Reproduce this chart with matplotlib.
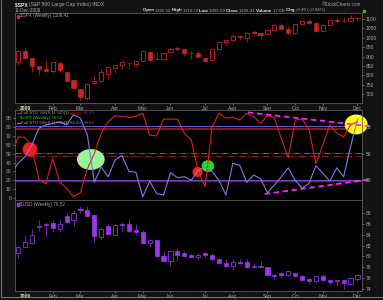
import matplotlib
matplotlib.use('Agg')
import matplotlib.pyplot as plt
from matplotlib.patches import Ellipse, Rectangle
import numpy as np

plt.rcParams['font.family'] = ['Liberation Sans', 'DejaVu Sans']

# weekly bars, week of 29-Dec-2008 .. week of 07-Dec-2009 (index 0..49)
spx_open = [872, 929, 890, 849, 832, 825, 868, 818, 773, 729, 680, 758, 771, 810, 839, 856, 868,
            863, 879, 922, 886, 887, 923, 940, 943, 918, 919, 894, 880, 942, 978, 990, 1008, 998,
            1026, 1025, 1018, 1040, 1067, 1045, 1026, 1072, 1088, 1081, 1036, 1069, 1094, 1091,
            1092, 1105.5]
spx_high = [934.7, 943.9, 890, 852, 877.9, 870, 875, 818, 780, 729, 758, 804, 832, 845, 856, 875,
            868, 878, 930, 922, 924, 922, 951, 956, 943, 929, 931, 898, 943, 980, 996, 1018, 1013,
            1029, 1039, 1025, 1048, 1074, 1080, 1063, 1071, 1096, 1101, 1085, 1071, 1097, 1113,
            1111, 1119, 1110.7]
spx_low = [857, 889, 817, 804, 821, 812, 818, 780, 731, 667, 667, 751, 767, 780, 814, 836, 832,
           847, 875, 878, 881, 881, 923, 930, 903, 888, 896, 869, 875, 940, 963, 984, 988, 978,
           1017, 991, 1017, 1036, 1041, 1020, 1018, 1071, 1074, 1029, 1029, 1067, 1086, 1084,
           1087, 1095.7]
spx_close = [931.8, 890.4, 850.1, 832.0, 825.9, 868.6, 826.8, 770.1, 735.1, 683.4, 756.6, 768.5,
             815.9, 842.5, 856.6, 869.6, 866.2, 877.5, 929.2, 882.9, 887.0, 919.1, 940.1, 946.2,
             921.2, 918.9, 896.4, 879.1, 940.4, 979.3, 987.5, 1010.5, 1004.1, 1026.1, 1028.9,
             1016.4, 1042.7, 1068.3, 1044.4, 1025.2, 1071.5, 1087.7, 1079.6, 1036.2, 1069.3,
             1093.5, 1091.4, 1091.5, 1106.0, 1106.4]

usd_open = [80.7, 81.7, 82.4, 85.5, 85.7, 86.2, 85.1, 87.4, 86.8, 88.7, 88.5, 87.6, 83.5, 85.6,
            84.0, 86.0, 86.0, 84.8, 84.5, 82.4, 83.0, 80.1, 79.2, 80.9, 80.6, 80.3, 79.8, 80.6,
            80.3, 79.5, 78.7, 78.2, 79.0, 78.9, 78.0, 78.3, 78.0, 76.6, 77.0, 76.6, 77.0, 76.3,
            75.8, 75.4, 76.4, 75.7, 75.4, 75.7, 74.9, 75.8]
usd_high = [81.9, 84.0, 85.1, 86.7, 86.4, 86.7, 86.7, 88.0, 88.5, 89.3, 89.3, 87.9, 85.4, 86.0,
            86.0, 86.3, 87.0, 85.9, 84.8, 83.2, 83.2, 80.9, 81.2, 81.5, 80.9, 80.6, 80.6, 80.9,
            80.6, 79.7, 79.5, 79.5, 79.5, 79.5, 78.7, 79.2, 78.1, 76.8, 77.1, 77.5, 77.0, 76.6,
            76.0, 76.4, 76.8, 75.8, 75.8, 75.8, 76.1, 76.8]
usd_low = [79.7, 81.5, 82.4, 84.7, 83.6, 84.5, 84.5, 86.2, 85.6, 88.0, 87.3, 82.7, 83.1, 84.0,
           84.0, 84.5, 84.5, 83.9, 82.4, 81.8, 79.9, 79.0, 78.2, 79.2, 79.9, 79.8, 79.5, 79.8,
           79.2, 78.6, 78.2, 77.5, 78.5, 77.8, 77.8, 78.0, 76.6, 75.8, 76.0, 76.4, 76.2, 75.4,
           74.9, 75.2, 75.4, 74.8, 74.5, 73.9, 74.7, 75.4]
usd_close = [81.8, 82.7, 83.9, 85.6, 85.9, 85.3, 86.0, 86.4, 88.0, 88.5, 87.4, 83.7, 85.1, 84.2,
             85.8, 85.7, 84.7, 84.5, 82.5, 83.0, 80.0, 79.2, 80.9, 80.3, 80.1, 79.8, 80.2, 80.3,
             79.5, 78.7, 78.3, 79.0, 78.7, 78.0, 78.3, 78.1, 76.6, 76.3, 76.5, 77.2, 76.3, 75.6,
             75.4, 76.4, 75.7, 75.3, 75.7, 75.0, 76.0, 76.52]

# full stochastics, index -1..49
sto_idx = list(range(-1, 50))
spx_sto = [47, 69, 68.5, 56, 21, 16, 45, 18, 11, 1.5, 6, 33, 50, 73, 86, 93, 92, 91, 92, 95.6, 71,
           70, 89, 89, 89, 73, 65.5, 30, 13, 80, 95.6, 90, 91, 88, 95.6, 92, 84, 93, 91, 67, 45.5,
           88, 89, 77, 39, 60, 82.5, 73, 69, 82.5, 85.83]
usd_sto = [29, 39, 46.7, 60, 78.7, 82.5, 84, 86, 82.5, 94, 90, 71, 18, 35, 24, 43, 48, 30, 29,
           1.5, 19, 5, 3.4, 28.6, 23, 24, 20, 31.6, 35, 30, 20, 3.4, 39, 37, 17.7, 26, 22, 6,
           14.7, 24, 34, 20, 11, 16.6, 36.5, 28, 19, 34, 24, 58, 88.89]

# hand-drawn annotations on the stochastic panel: (x index, value, width, height, colour)
marks = [(1.7, 55, 2.1, 16, '#ff1a1a'),
         (10.5, 43.5, 4.0, 23.5, '#98f598'),
         (25.9, 29.5, 1.45, 11.5, '#ff1a1a'),
         (27.4, 36, 1.8, 13.5, '#22dd22'),
         (48.8, 83, 3.3, 22.5, '#ffff00')]
trend_up_x = [33.2, 50.8]
trend_up_y = [96.6, 80.9]
trend_dn_x = [35.6, 51.1]
trend_dn_y = [4.5, 21.3]

month_idx = [1, 5, 9, 14, 18, 22, 27, 31, 36, 40, 44, 49]
month_lbl = ['2009', 'Feb', 'Mar', 'Apr', 'May', 'Jun', 'Jul', 'Aug', 'Sep', 'Oct', 'Nov', 'Dec']

TXT = '#a8a8a8'
W, H = 383, 300

fig = plt.figure(figsize=(3.83, 3.0), dpi=100, facecolor='#121212')


def box(x0, y0, x1, y1):
    return [x0 / W, 1 - y1 / H, (x1 - x0) / W, (y1 - y0) / H]


def style(ax):
    ax.set_facecolor('black')
    for s in ax.spines.values():
        s.set_color('#5c5c5c')
        s.set_linewidth(0.6)
    ax.tick_params(colors=TXT, labelsize=3.6, length=1.5, width=0.4, pad=1)
    ax.set_xlim(-0.45, 49.65)
    ax.set_xticks(month_idx)
    ax.set_xticks(range(50), minor=True)
    ax.tick_params(axis='x', which='minor', length=1, width=0.3, colors='#5c5c5c')
    ax.set_xticklabels(month_lbl)
    ax.get_xticklabels()[0].set_fontweight('bold')
    ax.get_xticklabels()[0].set_color('#e0e0c0')


def candles(ax, o, h, l, c, fill, edge):
    x = np.arange(len(o))
    o, h, l, c = map(np.asarray, (o, h, l, c))
    ax.vlines(x, l, h, color=edge, lw=0.6, zorder=2)
    up = c >= o
    bot = np.minimum(o, c)
    hgt = np.abs(c - o)
    ax.bar(x[~up], hgt[~up], bottom=bot[~up], width=0.6, color=fill, edgecolor=fill,
           lw=0.5, zorder=3)
    ax.bar(x[up], hgt[up], bottom=bot[up], width=0.6, color='black', edgecolor=edge,
           lw=0.7, zorder=3)


def parts(x, y, items, size):
    r = fig.canvas.get_renderer()
    x = x / W
    for s, col, wt in items:
        t = fig.text(x, 1 - y / H, s, color=col, fontsize=size, fontweight=wt, va='center')
        x += t.get_window_extent(renderer=r).width / fig.bbox.width


# --- price panel
ax1 = fig.add_axes(box(15, 13, 362, 103))
style(ax1)
candles(ax1, spx_open, spx_high, spx_low, spx_close, '#cc2222', '#b41e1e')
ax1.set_ylim(653, 1132)
ax1.yaxis.tick_right()
ax1.set_yticks(range(700, 1101, 50))

# --- stochastics panel
ax2 = fig.add_axes(box(15, 110, 362, 200))
style(ax2)
ax2.tick_params(axis='x', which='both', labelbottom=False, length=0)
ax2.set_ylim(-2.2, 99.3)
ax2.set_yticks(range(0, 91, 10))
ax2.axhline(81.5, color='#5a5ad0', lw=0.8, zorder=1)
ax2.axhline(77.5, color='#8a1c1c', lw=1.3, zorder=1)
ax2.axhline(50.5, color='#5a5ad0', lw=0.7, ls='-.', zorder=1)
ax2.axhline(47.5, color='#8a1c1c', lw=0.8, ls='-.', zorder=1)
ax2.axhline(19.5, color='#8a1c1c', lw=1.0, zorder=1)
ax2.axhline(20.5, color='#6a48c0', lw=0.7, zorder=1)
for cx, cy, w, h, col in marks:
    ax2.add_patch(Ellipse((cx, cy), w, h, color=col, zorder=2, clip_on=False, lw=0))
ax2.plot(sto_idx, spx_sto, color='#e02020', lw=0.8, zorder=4)
ax2.plot(sto_idx, usd_sto, color='#7c7ce6', lw=0.8, zorder=4)
ax2.plot(trend_up_x, trend_up_y, color='#ff20ff', lw=1.3, ls=(0, (3, 2)), zorder=5,
         clip_on=False)
ax2.plot(trend_dn_x, trend_dn_y, color='#ff20ff', lw=1.3, ls=(0, (3, 2)), zorder=5,
         clip_on=False)
ax2r = ax2.twinx()
ax2r.set_ylim(ax2.get_ylim())
ax2r.set_yticks([20, 50, 80])
ax2r.tick_params(colors=TXT, labelsize=3.6, length=1.5, width=0.4, pad=1)
for s in ax2r.spines.values():
    s.set_visible(False)

# --- dollar panel
ax3 = fig.add_axes(box(15, 200, 362, 291))
style(ax3)
candles(ax3, usd_open, usd_high, usd_low, usd_close, '#9b36f0', '#7a2cc4')
ax3.set_ylim(73.6, 90.4)
ax3.yaxis.tick_right()
ax3.set_yticks(range(74, 89, 2))

# --- header and legends
parts(15, 4.5, [('$SPX ', '#e8e8e8', 'bold'),
                ('(S&P 500 Large Cap Index) INDX', TXT, 'normal')], 3.6)
fig.text(15 / W, 1 - 10.5 / H, '11-Dec-2009', color=TXT, fontsize=3.3, va='center')
fig.text(361 / W, 1 - 4 / H, '\u00a9StockCharts.com', color=TXT, fontsize=3.3,
         va='center', ha='right')
parts(143, 10.5, [('Open ', '#e8e8e8', 'bold'), ('1105.52 ', TXT, 'normal'),
                  ('High ', '#e8e8e8', 'bold'), ('1110.72 ', TXT, 'normal'),
                  ('Low ', '#e8e8e8', 'bold'), ('1095.69 ', TXT, 'normal'),
                  ('Close ', '#e8e8e8', 'bold'), ('1106.41 ', TXT, 'normal'),
                  ('Volume ', '#e8e8e8', 'bold'), ('17.6B ', TXT, 'normal'),
                  ('Chg ', '#e8e8e8', 'bold'), ('+0.40 (+0.04%)', TXT, 'normal')], 3.2)
fig.patches.append(Rectangle((363 / W, 1 - 12 / H), 2 / W, 2 / H, color='#22cc22',
                             transform=fig.transFigure, figure=fig))

fig.patches.append(Rectangle((16.5 / W, 1 - 17.5 / H), 2.5 / W, 2.5 / H, color='#dd2222',
                             transform=fig.transFigure, figure=fig))
parts(20.5, 16, [('$SPX (Weekly) 1106.41', TXT, 'normal')], 3.3)

fig.lines.append(plt.Line2D([16.5 / W, 20 / W], [1 - 113.3 / H] * 2, color='#e02020', lw=0.8,
                            transform=fig.transFigure, figure=fig))
parts(21, 113.3, [('Full STO %K(9,1) %D(1) ', TXT, 'normal'), ('85.83, ', '#e02020', 'normal'),
                  ('85.83', '#4040c0', 'normal')], 3.2)
parts(20.5, 118.3, [('$USD (Weekly) 76.52', '#40d040', 'normal')], 3.2)
fig.lines.append(plt.Line2D([16.5 / W, 20 / W], [1 - 122.8 / H] * 2, color='#7c7ce6', lw=0.8,
                            transform=fig.transFigure, figure=fig))
parts(21, 122.8, [('Full STO %K(9,1) %D(1) ', TXT, 'normal'), ('88.89, ', '#7c7ce6', 'normal'),
                  ('88.89', '#e04020', 'normal')], 3.2)

fig.patches.append(Rectangle((16.5 / W, 1 - 205.5 / H), 2.5 / W, 2.5 / H, color='#9b36f0',
                             transform=fig.transFigure, figure=fig))
parts(20.5, 204.2, [('$USD (Weekly) 76.52', TXT, 'normal')], 3.3)

# thin frame at the left and bottom edge
fig.lines.append(plt.Line2D([1 / W, 1 / W, 1], [1, 3 / H, 3 / H], color='#8a8a80', lw=0.6,
                            transform=fig.transFigure, figure=fig))

fig.savefig('out.png', dpi=100, facecolor=fig.get_facecolor())
